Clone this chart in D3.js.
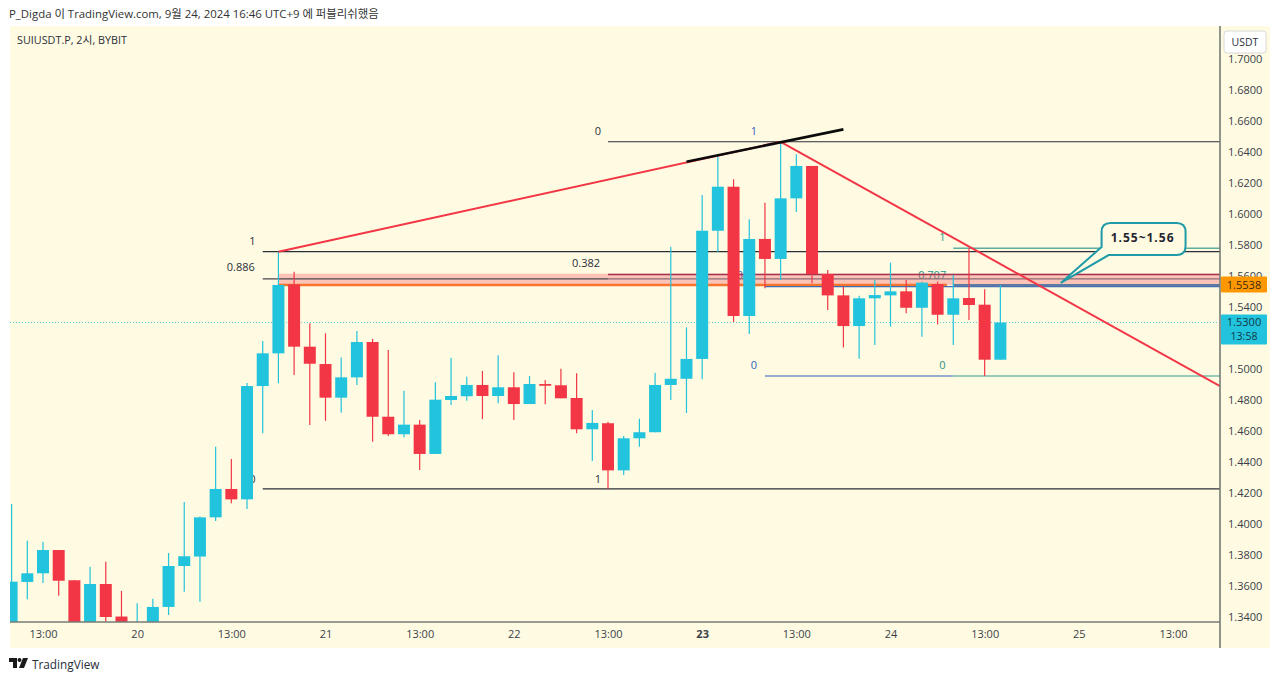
<!DOCTYPE html>
<html><head><meta charset="utf-8">
<script src="https://cdn.jsdelivr.net/npm/d3@7"></script>
<style>
html,body{margin:0;padding:0;background:#fff;overflow:hidden}
svg{display:block}
text{font-family:"Open Sans","Noto Sans CJK KR",sans-serif}
</style></head><body><svg id="c" width="1280" height="681"></svg>
<script>
const opens=[1.32,1.3626,1.3682,1.3832,1.3637,1.33,1.3613,1.3403,1.32,1.33,1.3465,1.3729,1.379,1.4043,1.4226,1.4159,1.489,1.5101,1.5546,1.5144,1.5032,1.4815,1.4946,1.5174,1.4692,1.4579,1.4641,1.4452,1.48,1.4824,1.4897,1.4826,1.4882,1.4774,1.4903,1.4895,1.4813,1.4611,1.465,1.4346,1.4553,1.4592,1.4897,1.4937,1.5065,1.5892,1.6176,1.5342,1.5839,1.571,1.6101,1.631,1.5613,1.5475,1.5277,1.5456,1.5475,1.5501,1.5395,1.5548,1.535,1.5458,1.5415,1.506];
const closes=[1.3628,1.3682,1.3832,1.3634,1.329,1.3613,1.34,1.325,1.33,1.3465,1.3729,1.3792,1.4043,1.4226,1.4159,1.489,1.5101,1.5542,1.5144,1.5034,1.4815,1.4946,1.5174,1.4692,1.4579,1.4641,1.4452,1.4802,1.4826,1.4897,1.4826,1.4882,1.4774,1.4903,1.4892,1.4811,1.4611,1.4652,1.4346,1.4553,1.4592,1.4897,1.4937,1.5065,1.5892,1.6176,1.5342,1.5839,1.571,1.6101,1.631,1.5613,1.5475,1.5277,1.5456,1.5477,1.5501,1.5395,1.5557,1.535,1.5456,1.5413,1.506,1.53];
const highs=[1.4129,1.3892,1.3886,1.3832,1.3637,1.3725,1.3757,1.3568,1.3488,1.3518,1.3813,1.4142,1.4048,1.4499,1.4419,1.491,1.5181,1.5757,1.5628,1.5295,1.523,1.5075,1.5245,1.5194,1.5123,1.486,1.4671,1.4914,1.5073,1.495,1.4987,1.5088,1.4979,1.4955,1.4929,1.5002,1.4972,1.4735,1.466,1.4568,1.4679,1.4976,1.5789,1.5269,1.6123,1.637,1.6224,1.5966,1.6073,1.6466,1.6385,1.631,1.5639,1.5531,1.5473,1.5574,1.5686,1.5574,1.5563,1.5563,1.5606,1.5779,1.5514,1.5542];
const lows=[1.31,1.3514,1.3619,1.3537,1.32,1.325,1.336,1.32,1.315,1.328,1.3413,1.3563,1.3499,1.4019,1.4134,1.4097,1.4585,1.4908,1.4961,1.4639,1.4666,1.4718,1.4897,1.4531,1.4568,1.4559,1.4348,1.4452,1.4768,1.4795,1.4677,1.4779,1.4671,1.4774,1.4772,1.4811,1.4585,1.4406,1.4226,1.4316,1.4499,1.4592,1.48,1.4716,1.4934,1.5757,1.5303,1.5226,1.5521,1.5574,1.6013,1.5553,1.5381,1.5139,1.5066,1.5155,1.5273,1.5359,1.5208,1.5288,1.5155,1.5316,1.4955,1.506];

const priceTicks=[1.34,1.36,1.38,1.40,1.42,1.44,1.46,1.48,1.50,1.54,1.56,1.58,1.60,1.62,1.64,1.66,1.68,1.70];
const timeIdx=[2,8,14,20,26,32,38,44,50,56,62,68,74];
const timeLabels=["13:00","20","13:00","21","13:00","22","13:00","23","13:00","24","13:00","25","13:00"];
const boldTimeLabels=["23"];

const lastClose=1.53, countdown="13:58", orangePrice=1.5538;
const title="P_Digda 이 TradingView.com, 9월 24, 2024 16:46 UTC+9 에 퍼블리쉬했음";
const symbol="SUIUSDT.P, 2시, BYBIT";
const currency="USDT", calloutText="1.55~1.56", brand="TradingView";

// drawings: [startBar, endBar, price, colour, width]
const hLines=[
 [38,77.2,1.6466,"#2a2e39",1.2],
 [16,77.2,1.5757,"#2a2e39",1.2],
 [16,77.2,1.4226,"#2a2e39",1.2],
 [16,38,1.5582,"#4a4550",1.2],
 [38,77.2,1.5582,"#8c6a78",1.2],
 [38,77.2,1.561,"#a3324f",1.4],
 [17,59.6,1.5542,"#f7742c",2.4],
 [48,77.2,1.5532,"#3f6bb5",1.2],
 [60,77.2,1.5540,"#5b7ba5",2.4],
 [48,60,1.4955,"#2f5fc0",1.2],
 [60,77.2,1.4955,"#2f9d8f",1.2],
 [60,77.2,1.5779,"#5fae9f",1.4]
];
const band=[17,77.2,1.5615,1.5542];
// trend lines: [bar1,price1,bar2,price2,colour,width]
const trends=[
 [17,1.5757,49,1.6466,"#f23645",2],
 [49,1.6466,77.2,1.4878,"#f23645",2],
 [43,1.6337,53.0,1.6546,"#0b0b0b",2.6]
];
// fib labels: [bar,price,text,colour]
const fibLabels=[
 [37.55,1.6532,"0","#2a2e39"],
 [47.5,1.6532,"1","#2f5fc0"],
 [15.55,1.5825,"1","#2a2e39"],
 [15.5,1.5655,"0.886","#2a2e39"],
 [37.5,1.5685,"0.382","#2a2e39"],
 [37.55,1.4291,"1","#2a2e39"],
 [15.55,1.4291,"0","#2a2e39"],
 [47.5,1.5025,"0","#2f5fc0"],
 [59.5,1.5025,"0","#1f9488"],
 [59.5,1.5848,"1","#1f9488"],
 [47.4,1.5607,"0.382","#2f5fc0"],
 [59.55,1.5607,"0.707","#1f9488"]
];
// callout box in bar/price terms
const callout={x0:69.45,x1:74.8,p0:1.5942,p1:1.5735,tip:[66.85,1.5555],t0:[69.45,1.5787],t1:[69.9,1.5735]};

const W=1280,H=681,L=10,R=1220,T=26,B=622,BB=648,AX=1270;
const x=d3.scaleLinear().domain([2,74]).range([43,1173]);
const y=d3.scaleLinear().domain([1.34,1.70]).range([617,59]);
const bg="#fffbe2",up="#22c3dc",down="#f23645";
const svg=d3.select("#c");
const defs=svg.append("defs");
defs.append("clipPath").attr("id","plot").append("rect").attr("x",L).attr("y",T).attr("width",R-L).attr("height",B-T);

svg.append("rect").attr("x",L).attr("y",T).attr("width",AX-L).attr("height",BB-T).attr("fill",bg);
svg.append("text").attr("x",9).attr("y",18).attr("font-size",11.4).attr("fill","#333").text(title);

const plot=svg.append("g").attr("clip-path","url(#plot)");
// dotted last-price line
plot.append("line").attr("x1",L).attr("x2",R).attr("y1",y(lastClose)).attr("y2",y(lastClose))
 .attr("stroke",up).attr("stroke-opacity",.75).attr("stroke-dasharray","1 2");
// fib labels below candles
plot.selectAll("text.fib").data(fibLabels).join("text").attr("class","fib")
 .attr("x",d=>x(d[0])).attr("y",d=>y(d[1])).attr("dy","0.35em").attr("text-anchor","end")
 .attr("font-size",11).attr("fill",d=>d[3]).text(d=>d[2]);
// band
plot.append("rect").attr("x",x(band[0])).attr("width",x(band[1])-x(band[0]))
 .attr("y",y(band[2])).attr("height",y(band[3])-y(band[2])).attr("fill",down).attr("fill-opacity",.28);
plot.selectAll("line.h").data(hLines).join("line").attr("class","h")
 .attr("x1",d=>x(d[0])).attr("x2",d=>x(d[1])).attr("y1",d=>y(d[2])).attr("y2",d=>y(d[2]))
 .attr("stroke",d=>d[3]).attr("stroke-width",d=>d[4]);
// candles
const idx=d3.range(opens.length);
const col=i=>closes[i]>=opens[i]?up:down;
plot.selectAll("line.w").data(idx).join("line").attr("class","w")
 .attr("x1",i=>x(i)).attr("x2",i=>x(i)).attr("y1",i=>y(highs[i])).attr("y2",i=>y(lows[i]))
 .attr("stroke",col).attr("stroke-width",1.2);
plot.selectAll("rect.b").data(idx).join("rect").attr("class","b")
 .attr("x",i=>x(i)-6).attr("width",12)
 .attr("y",i=>y(Math.max(opens[i],closes[i])))
 .attr("height",i=>Math.max(1.5,Math.abs(y(opens[i])-y(closes[i])))).attr("fill",col);
// trends
plot.selectAll("line.t").data(trends).join("line").attr("class","t")
 .attr("x1",d=>x(d[0])).attr("y1",d=>y(d[1])).attr("x2",d=>x(d[2])).attr("y2",d=>y(d[3]))
 .attr("stroke",d=>d[4]).attr("stroke-width",d=>d[5]);
// callout
const cx0=x(callout.x0),cx1=x(callout.x1),cy0=y(callout.p0),cy1=y(callout.p1),r=9;
const cp=d3.path();
cp.moveTo(cx0+r,cy0);cp.lineTo(cx1-r,cy0);cp.quadraticCurveTo(cx1,cy0,cx1,cy0+r);
cp.lineTo(cx1,cy1-r);cp.quadraticCurveTo(cx1,cy1,cx1-r,cy1);
cp.lineTo(x(callout.t1[0]),y(callout.t1[1]));cp.lineTo(x(callout.tip[0]),y(callout.tip[1]));
cp.lineTo(x(callout.t0[0]),y(callout.t0[1]));cp.lineTo(cx0,cy0+r);cp.quadraticCurveTo(cx0,cy0,cx0+r,cy0);cp.closePath();
plot.append("path").attr("d",cp.toString()).attr("fill",bg).attr("stroke","#1e9aa8").attr("stroke-width",2);
plot.append("text").attr("x",(cx0+cx1)/2-1).attr("y",(cy0+cy1)/2-1).attr("dy","0.36em").attr("text-anchor","middle")
 .attr("font-size",12).attr("font-weight",700).attr("letter-spacing",1).attr("fill","#1f2430").text(calloutText);

svg.append("text").attr("x",17).attr("y",44).attr("font-size",10.8).attr("fill","#2a2e39").text(symbol);

// axes
const yAxis=d3.axisRight(y).tickValues(priceTicks).tickSize(0).tickPadding(8).tickFormat(d3.format(".4f"));
const gy=svg.append("g").attr("transform",`translate(${R},0)`).call(yAxis);
gy.select(".domain").remove();
gy.selectAll("text").attr("font-size",11).attr("fill","#3a3e49").attr("font-family",'"Open Sans",sans-serif');
const xAxis=d3.axisBottom(x).tickValues(timeIdx).tickSize(0).tickPadding(8).tickFormat((d,i)=>timeLabels[i]);
const gx=svg.append("g").attr("transform",`translate(0,${B})`).call(xAxis);
gx.select(".domain").remove();
gx.selectAll("text").attr("font-size",11).attr("fill","#3a3e49").attr("font-family",'"Open Sans",sans-serif')
 .attr("font-weight",(d,i)=>boldTimeLabels.includes(timeLabels[i])?700:400);
svg.append("line").attr("x1",L).attr("x2",R).attr("y1",B).attr("y2",B).attr("stroke","#787b74").attr("stroke-width",1.4);
svg.append("line").attr("x1",R).attr("x2",R).attr("y1",T).attr("y2",BB).attr("stroke","#787b74").attr("stroke-width",1.6);

// USDT box
svg.append("rect").attr("x",1224).attr("y",31).attr("width",42).attr("height",22).attr("rx",3).attr("fill","#fff").attr("stroke","#d8d8d8");
svg.append("text").attr("x",1245).attr("y",42).attr("dy","0.36em").attr("text-anchor","middle").attr("font-size",10.5).attr("fill","#2a2e39").text(currency);

// price tags
svg.append("rect").attr("x",R+1).attr("y",y(orangePrice)-9).attr("width",46).attr("height",16).attr("rx",1).attr("fill","#ff9800");
svg.append("text").attr("x",1244).attr("y",y(orangePrice)-1).attr("dy","0.36em").attr("text-anchor","middle").attr("font-size",11).attr("fill","#3a2a10").text(d3.format(".4f")(orangePrice));
svg.append("rect").attr("x",R+1).attr("y",y(lastClose)-8).attr("width",46).attr("height",30).attr("rx",1).attr("fill",up);
svg.append("text").attr("x",1244).attr("y",y(lastClose)).attr("dy","0.36em").attr("text-anchor","middle").attr("font-size",11).attr("fill","#0f3a48").text(d3.format(".4f")(lastClose));
svg.append("text").attr("x",1244).attr("y",y(lastClose)+14).attr("dy","0.36em").attr("text-anchor","middle").attr("font-size",10.5).attr("fill","#0f3a48").text(countdown);

// brand
const lg=svg.append("g").attr("transform","translate(9,658)").attr("fill","#1a1a1a");
lg.append("path").attr("d","M0 0H8V10H4V4H0Z");
lg.append("circle").attr("cx",10.5).attr("cy",2).attr("r",2);
lg.append("path").attr("d","M14 0H19L15 10H10Z");
svg.append("text").attr("x",32).attr("y",668.5).attr("font-size",11.8).attr("fill","#2a2e39").text(brand);
</script></body></html>
